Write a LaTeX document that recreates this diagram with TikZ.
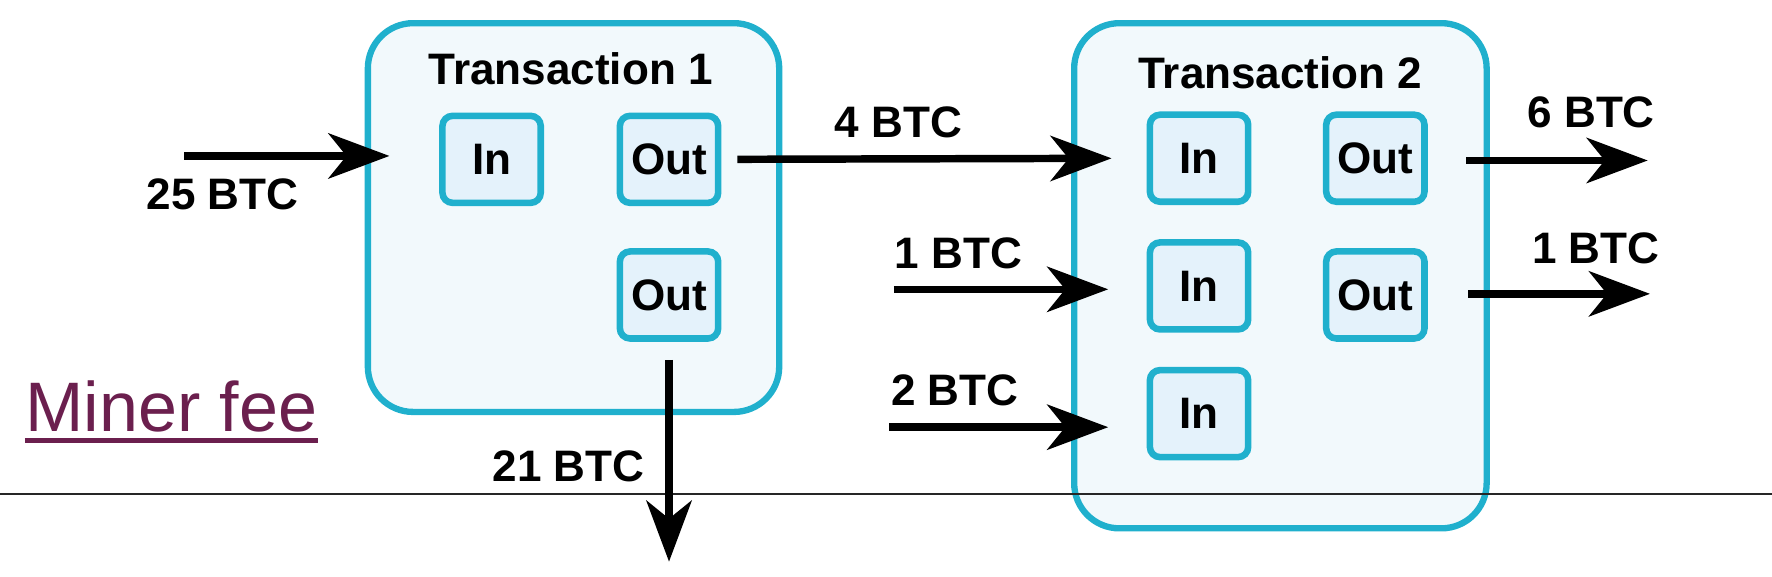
\documentclass[tikz,border=0pt]{standalone}
\usepackage{fontspec}
\setmainfont{Liberation Sans}
\usetikzlibrary{arrows.meta,calc}
\definecolor{cyanb}{HTML}{20B0CD}
\definecolor{outerf}{HTML}{F2F9FC}
\definecolor{innerf}{HTML}{E4F2FB}
\definecolor{minerc}{RGB}{107,31,78}
\tikzset{
  txbox/.style={draw=cyanb, line width=2.8pt, fill=outerf, rounded corners=20pt, inner sep=0pt},
  port/.style={draw=cyanb, line width=2.9pt, fill=innerf, rounded corners=4.5pt, inner sep=0pt,
    minimum width=43.5pt, minimum height=38.5pt, font=\bfseries\fontsize{19.5}{22}\selectfont},
  lbl/.style={inner sep=0pt, font=\bfseries\fontsize{19.5}{22}\selectfont},
  arr/.style={line width=3.3pt, -{Stealth[length=27pt,width=20pt,inset=8pt]}},
}
\begin{document}
\begin{tikzpicture}[x=0.5pt,y=-0.5pt]
\useasboundingbox (0,0) rectangle (1568,509.7);
% transaction boxes
\node[txbox, minimum width=182pt, minimum height=172pt] (tx1) at (507.5,192.5) {};
\node[txbox, minimum width=182.5pt, minimum height=223.5pt] (tx2) at (1133,244) {};
\node[lbl] (tt1) at (505,61) {Transaction 1};
\node[lbl] (tt2) at (1133,64) {Transaction 2};
% ports
\node[port] (t1in) at (435,141) {In};
\node[port] (t1out) at (592,141) {Out};
\node[port] (t1out2) at (592,261) {Out};
\node[port] (t2in1) at (1061,140) {In};
\node[port] (t2out1) at (1217,140) {Out};
\node[port] (t2in2) at (1061,253) {In};
\node[port] (t2out2) at (1217,261) {Out};
\node[port] (t2in3) at (1061,366) {In};
% free ends
\coordinate (s25) at (163,138);
\coordinate (s1) at (791,256);
\coordinate (s2) at (787,378);
\coordinate (e6) at (1458,142);
\coordinate (e1) at (1460,260);
\coordinate (e21) at (592,497);
% horizontal line
\draw[line width=1pt, black!85] (0,437) -- (1568,437);
% arrows
\draw[arr, shorten >=22pt] (s25) -- (s25 -| t1in.west);
\draw[arr, shorten <=7pt, shorten >=15.5pt] (t1out.east) -- (t2in1.west);
\draw[arr, shorten >=17pt] (s1) -- (s1 -| t2in2.west);
\draw[arr, shorten >=17pt] (s2) -- (s2 -| t2in3.west);
\draw[arr, shorten <=17pt] (t2out1.east |- e6) -- (e6);
\draw[arr, shorten <=18pt] (t2out2.east |- e1) -- (e1);
\draw[arr, shorten <=8pt] (t1out2.south) -- (e21);
% labels
\node[lbl] (l25) at (197,172) {25 BTC};
\node[lbl] (l4) at (795,108) {4 BTC};
\node[lbl] (l1) at (848,224) {1 BTC};
\node[lbl] (l2) at (845,345) {2 BTC};
\node[lbl] (l6) at (1408,99) {6 BTC};
\node[lbl] (l1o) at (1412,220) {1 BTC};
\node[lbl] (l21) at (503,413) {21 BTC};
% miner fee
\node[inner sep=0pt, anchor=base west, text=minerc, font=\fontsize{31}{36}\selectfont] (mf) at (22,382) {Miner fee};
\draw[minerc, line width=2pt] ($(mf.base west)+(0,8)$) -- ($(mf.base east)+(0,8)$);
\end{tikzpicture}
\end{document}
